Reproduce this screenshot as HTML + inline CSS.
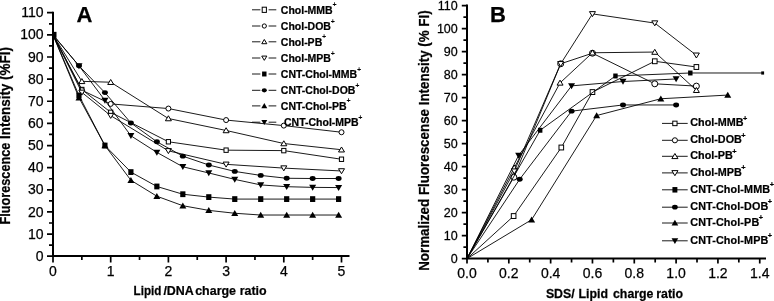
<!DOCTYPE html>
<html><head><meta charset="utf-8"><style>
html,body{margin:0;padding:0;background:#fff;}
body{width:774px;height:301px;position:relative;overflow:hidden;}
svg text{font-family:"Liberation Sans", sans-serif;fill:#000;stroke:#000;stroke-width:0.25px;}
svg{will-change:transform;}
</style></head><body>
<svg width="774" height="301" viewBox="0 0 774 301" style="position:absolute;left:0;top:0"><path d="M53.00,34.85 L81.85,89.52 L110.70,112.32 L168.40,141.76 L226.10,150.17 L283.80,150.62 L341.50,159.25" fill="none" stroke="#000" stroke-width="0.9"/><rect x="79.75" y="87.32" width="4.20" height="4.40" fill="#fff" stroke="#000" stroke-width="1.0"/><rect x="108.60" y="110.12" width="4.20" height="4.40" fill="#fff" stroke="#000" stroke-width="1.0"/><rect x="166.30" y="139.56" width="4.20" height="4.40" fill="#fff" stroke="#000" stroke-width="1.0"/><rect x="224.00" y="147.97" width="4.20" height="4.40" fill="#fff" stroke="#000" stroke-width="1.0"/><rect x="281.70" y="148.42" width="4.20" height="4.40" fill="#fff" stroke="#000" stroke-width="1.0"/><rect x="339.40" y="157.05" width="4.20" height="4.40" fill="#fff" stroke="#000" stroke-width="1.0"/><path d="M53.00,34.85 L81.85,90.19 L110.70,103.91 L168.40,108.56 L226.10,120.07 L283.80,125.60 L341.50,132.24" fill="none" stroke="#000" stroke-width="0.9"/><circle cx="81.85" cy="90.19" r="2.50" fill="#fff" stroke="#000" stroke-width="1.0"/><circle cx="110.70" cy="103.91" r="2.50" fill="#fff" stroke="#000" stroke-width="1.0"/><circle cx="168.40" cy="108.56" r="2.50" fill="#fff" stroke="#000" stroke-width="1.0"/><circle cx="226.10" cy="120.07" r="2.50" fill="#fff" stroke="#000" stroke-width="1.0"/><circle cx="283.80" cy="125.60" r="2.50" fill="#fff" stroke="#000" stroke-width="1.0"/><circle cx="341.50" cy="132.24" r="2.50" fill="#fff" stroke="#000" stroke-width="1.0"/><path d="M53.00,34.85 L81.85,81.33 L110.70,82.22 L168.40,118.52 L226.10,130.47 L283.80,143.53 L341.50,149.73" fill="none" stroke="#000" stroke-width="0.9"/><path d="M81.85,78.58 L84.85,83.58 L78.85,83.58Z" fill="#fff" stroke="#000" stroke-width="1.0"/><path d="M110.70,79.47 L113.70,84.47 L107.70,84.47Z" fill="#fff" stroke="#000" stroke-width="1.0"/><path d="M168.40,115.77 L171.40,120.77 L165.40,120.77Z" fill="#fff" stroke="#000" stroke-width="1.0"/><path d="M226.10,127.72 L229.10,132.72 L223.10,132.72Z" fill="#fff" stroke="#000" stroke-width="1.0"/><path d="M283.80,140.78 L286.80,145.78 L280.80,145.78Z" fill="#fff" stroke="#000" stroke-width="1.0"/><path d="M341.50,146.98 L344.50,151.98 L338.50,151.98Z" fill="#fff" stroke="#000" stroke-width="1.0"/><path d="M53.00,34.85 L81.85,92.40 L110.70,115.64 L168.40,150.84 L226.10,164.34 L283.80,168.10 L341.50,170.98" fill="none" stroke="#000" stroke-width="0.9"/><path d="M81.85,95.15 L84.85,90.15 L78.85,90.15Z" fill="#fff" stroke="#000" stroke-width="1.0"/><path d="M110.70,118.39 L113.70,113.39 L107.70,113.39Z" fill="#fff" stroke="#000" stroke-width="1.0"/><path d="M168.40,153.59 L171.40,148.59 L165.40,148.59Z" fill="#fff" stroke="#000" stroke-width="1.0"/><path d="M226.10,167.09 L229.10,162.09 L223.10,162.09Z" fill="#fff" stroke="#000" stroke-width="1.0"/><path d="M283.80,170.85 L286.80,165.85 L280.80,165.85Z" fill="#fff" stroke="#000" stroke-width="1.0"/><path d="M341.50,173.73 L344.50,168.73 L338.50,168.73Z" fill="#fff" stroke="#000" stroke-width="1.0"/><path d="M53.00,34.85 L78.97,95.50 L104.93,145.53 L130.90,172.09 L156.86,186.47 L182.83,194.22 L208.79,197.10 L234.75,199.09 L260.72,199.09 L286.69,199.09 L312.65,199.09 L338.62,199.09" fill="none" stroke="#000" stroke-width="0.9"/><rect x="76.37" y="92.60" width="5.20" height="5.80" fill="#000"/><rect x="102.33" y="142.62" width="5.20" height="5.80" fill="#000"/><rect x="128.30" y="169.19" width="5.20" height="5.80" fill="#000"/><rect x="154.26" y="183.57" width="5.20" height="5.80" fill="#000"/><rect x="180.23" y="191.32" width="5.20" height="5.80" fill="#000"/><rect x="206.19" y="194.20" width="5.20" height="5.80" fill="#000"/><rect x="232.16" y="196.19" width="5.20" height="5.80" fill="#000"/><rect x="258.12" y="196.19" width="5.20" height="5.80" fill="#000"/><rect x="284.08" y="196.19" width="5.20" height="5.80" fill="#000"/><rect x="310.05" y="196.19" width="5.20" height="5.80" fill="#000"/><rect x="336.01" y="196.19" width="5.20" height="5.80" fill="#000"/><path d="M53.00,34.85 L78.97,65.84 L104.93,92.62 L130.90,122.95 L156.86,141.76 L182.83,156.15 L208.79,165.00 L234.75,171.42 L260.72,175.41 L286.69,178.28 L312.65,178.51 L338.62,178.51" fill="none" stroke="#000" stroke-width="0.9"/><ellipse cx="78.97" cy="65.84" rx="3.00" ry="2.45" fill="#000"/><ellipse cx="104.93" cy="92.62" rx="3.00" ry="2.45" fill="#000"/><ellipse cx="130.90" cy="122.95" rx="3.00" ry="2.45" fill="#000"/><ellipse cx="156.86" cy="141.76" rx="3.00" ry="2.45" fill="#000"/><ellipse cx="182.83" cy="156.15" rx="3.00" ry="2.45" fill="#000"/><ellipse cx="208.79" cy="165.00" rx="3.00" ry="2.45" fill="#000"/><ellipse cx="234.75" cy="171.42" rx="3.00" ry="2.45" fill="#000"/><ellipse cx="260.72" cy="175.41" rx="3.00" ry="2.45" fill="#000"/><ellipse cx="286.69" cy="178.28" rx="3.00" ry="2.45" fill="#000"/><ellipse cx="312.65" cy="178.51" rx="3.00" ry="2.45" fill="#000"/><ellipse cx="338.62" cy="178.51" rx="3.00" ry="2.45" fill="#000"/><path d="M53.00,34.85 L78.97,97.71 L104.93,145.53 L130.90,180.28 L156.86,196.21 L182.83,205.73 L208.79,210.38 L234.75,213.26 L260.72,215.03 L286.69,215.03 L312.65,215.03 L338.62,215.03" fill="none" stroke="#000" stroke-width="0.9"/><path d="M78.97,94.41 L82.47,100.41 L75.47,100.41Z" fill="#000"/><path d="M104.93,142.22 L108.43,148.22 L101.43,148.22Z" fill="#000"/><path d="M130.90,176.98 L134.40,182.98 L127.40,182.98Z" fill="#000"/><path d="M156.86,192.91 L160.36,198.91 L153.36,198.91Z" fill="#000"/><path d="M182.83,202.43 L186.33,208.43 L179.33,208.43Z" fill="#000"/><path d="M208.79,207.08 L212.29,213.08 L205.29,213.08Z" fill="#000"/><path d="M234.75,209.96 L238.25,215.96 L231.25,215.96Z" fill="#000"/><path d="M260.72,211.73 L264.22,217.73 L257.22,217.73Z" fill="#000"/><path d="M286.69,211.73 L290.19,217.73 L283.19,217.73Z" fill="#000"/><path d="M312.65,211.73 L316.15,217.73 L309.15,217.73Z" fill="#000"/><path d="M338.62,211.73 L342.12,217.73 L335.12,217.73Z" fill="#000"/><path d="M53.00,34.85 L78.97,65.84 L104.93,100.37 L130.90,135.79 L156.86,152.39 L182.83,166.77 L208.79,172.97 L234.75,179.39 L260.72,184.93 L286.69,186.70 L312.65,187.36 L338.62,187.58" fill="none" stroke="#000" stroke-width="0.9"/><path d="M78.97,69.14 L82.47,63.14 L75.47,63.14Z" fill="#000"/><path d="M104.93,103.67 L108.43,97.67 L101.43,97.67Z" fill="#000"/><path d="M130.90,139.09 L134.40,133.09 L127.40,133.09Z" fill="#000"/><path d="M156.86,155.69 L160.36,149.69 L153.36,149.69Z" fill="#000"/><path d="M182.83,170.07 L186.33,164.07 L179.33,164.07Z" fill="#000"/><path d="M208.79,176.27 L212.29,170.27 L205.29,170.27Z" fill="#000"/><path d="M234.75,182.69 L238.25,176.69 L231.25,176.69Z" fill="#000"/><path d="M260.72,188.23 L264.22,182.23 L257.22,182.23Z" fill="#000"/><path d="M286.69,190.00 L290.19,184.00 L283.19,184.00Z" fill="#000"/><path d="M312.65,190.66 L316.15,184.66 L309.15,184.66Z" fill="#000"/><path d="M338.62,190.88 L342.12,184.88 L335.12,184.88Z" fill="#000"/><path d="M467.00,258.60 L513.63,216.05 L561.30,147.51 L592.46,92.08 L654.77,61.26 L696.38,67.01" fill="none" stroke="#000" stroke-width="0.9"/><rect x="511.32" y="213.63" width="4.62" height="4.84" fill="#fff" stroke="#000" stroke-width="1.0"/><rect x="558.99" y="145.09" width="4.62" height="4.84" fill="#fff" stroke="#000" stroke-width="1.0"/><rect x="590.15" y="89.66" width="4.62" height="4.84" fill="#fff" stroke="#000" stroke-width="1.0"/><rect x="652.46" y="58.84" width="4.62" height="4.84" fill="#fff" stroke="#000" stroke-width="1.0"/><rect x="694.07" y="64.59" width="4.62" height="4.84" fill="#fff" stroke="#000" stroke-width="1.0"/><path d="M467.00,258.60 L513.84,177.18 L560.68,63.79 L592.46,53.21 L654.77,83.80 L696.38,86.10" fill="none" stroke="#000" stroke-width="0.9"/><circle cx="513.84" cy="177.18" r="3.00" fill="#fff" stroke="#000" stroke-width="1.0"/><circle cx="560.68" cy="63.79" r="3.00" fill="#fff" stroke="#000" stroke-width="1.0"/><circle cx="592.46" cy="53.21" r="3.00" fill="#fff" stroke="#000" stroke-width="1.0"/><circle cx="654.77" cy="83.80" r="3.00" fill="#fff" stroke="#000" stroke-width="1.0"/><circle cx="696.38" cy="86.10" r="3.00" fill="#fff" stroke="#000" stroke-width="1.0"/><path d="M467.00,258.60 L514.26,167.75 L560.05,82.88 L592.46,52.75 L654.77,52.06 L696.38,90.24" fill="none" stroke="#000" stroke-width="0.9"/><path d="M514.26,165.00 L517.26,170.00 L511.26,170.00Z" fill="#fff" stroke="#000" stroke-width="1.0"/><path d="M560.05,80.13 L563.05,85.13 L557.05,85.13Z" fill="#fff" stroke="#000" stroke-width="1.0"/><path d="M592.46,50.00 L595.46,55.00 L589.46,55.00Z" fill="#fff" stroke="#000" stroke-width="1.0"/><path d="M654.77,49.31 L657.77,54.31 L651.77,54.31Z" fill="#fff" stroke="#000" stroke-width="1.0"/><path d="M696.38,87.49 L699.38,92.49 L693.38,92.49Z" fill="#fff" stroke="#000" stroke-width="1.0"/><path d="M467.00,258.60 L514.26,171.20 L560.68,63.79 L592.46,13.88 L654.77,23.08 L696.38,55.28" fill="none" stroke="#000" stroke-width="0.9"/><path d="M514.26,173.95 L517.26,168.95 L511.26,168.95Z" fill="#fff" stroke="#000" stroke-width="1.0"/><path d="M560.68,66.54 L563.68,61.54 L557.68,61.54Z" fill="#fff" stroke="#000" stroke-width="1.0"/><path d="M592.46,16.63 L595.46,11.63 L589.46,11.63Z" fill="#fff" stroke="#000" stroke-width="1.0"/><path d="M654.77,25.83 L657.77,20.83 L651.77,20.83Z" fill="#fff" stroke="#000" stroke-width="1.0"/><path d="M696.38,58.03 L699.38,53.03 L693.38,53.03Z" fill="#fff" stroke="#000" stroke-width="1.0"/><path d="M467.00,258.60 L540.18,130.26 L615.46,75.98 L690.32,72.99 L762.67,72.99" fill="none" stroke="#000" stroke-width="0.9"/><rect x="537.97" y="127.80" width="4.42" height="4.93" fill="#000"/><rect x="613.25" y="73.52" width="4.42" height="4.93" fill="#000"/><rect x="688.11" y="70.53" width="4.42" height="4.93" fill="#000"/><rect x="761.24" y="71.40" width="2.86" height="3.19" fill="#000"/><path d="M467.00,258.60 L519.69,179.25 L571.55,111.17 L622.99,104.96 L676.10,104.96" fill="none" stroke="#000" stroke-width="0.9"/><ellipse cx="519.69" cy="179.25" rx="3.00" ry="2.45" fill="#000"/><ellipse cx="571.55" cy="111.17" rx="3.00" ry="2.45" fill="#000"/><ellipse cx="622.99" cy="104.96" rx="3.00" ry="2.45" fill="#000"/><ellipse cx="676.10" cy="104.96" rx="3.00" ry="2.45" fill="#000"/><path d="M467.00,258.60 L531.61,219.73 L596.64,115.54 L660.84,98.75 L727.75,95.07" fill="none" stroke="#000" stroke-width="0.9"/><path d="M531.61,216.43 L535.11,222.43 L528.11,222.43Z" fill="#000"/><path d="M596.64,112.24 L600.14,118.24 L593.14,118.24Z" fill="#000"/><path d="M660.84,95.45 L664.34,101.45 L657.34,101.45Z" fill="#000"/><path d="M727.75,91.77 L731.25,97.77 L724.25,97.77Z" fill="#000"/><path d="M467.00,258.60 L518.65,155.33 L571.55,85.87 L622.99,81.50 L676.10,78.97" fill="none" stroke="#000" stroke-width="0.9"/><path d="M518.65,158.63 L522.15,152.63 L515.15,152.63Z" fill="#000"/><path d="M571.55,89.17 L575.05,83.17 L568.05,83.17Z" fill="#000"/><path d="M622.99,84.80 L626.49,78.80 L619.49,78.80Z" fill="#000"/><path d="M676.10,82.27 L679.60,76.27 L672.60,76.27Z" fill="#000"/><rect x="52.00" y="31.85" width="4.5" height="6" fill="#000"/><path d="M53.0,12.72 L53.0,256 L348.5,256" fill="none" stroke="#000" stroke-width="2" stroke-linecap="square"/><path d="M47.00,256.20 H53.0 M49.00,245.13 H53.0 M47.00,234.06 H53.0 M49.00,223.00 H53.0 M47.00,211.93 H53.0 M49.00,200.86 H53.0 M47.00,189.79 H53.0 M49.00,178.73 H53.0 M47.00,167.66 H53.0 M49.00,156.59 H53.0 M47.00,145.53 H53.0 M49.00,134.46 H53.0 M47.00,123.39 H53.0 M49.00,112.32 H53.0 M47.00,101.25 H53.0 M49.00,90.19 H53.0 M47.00,79.12 H53.0 M49.00,68.05 H53.0 M47.00,56.99 H53.0 M49.00,45.92 H53.0 M47.00,34.85 H53.0 M49.00,23.78 H53.0 M47.00,12.72 H53.0 M53.00,256 V262.50 M81.85,256 V260.00 M110.70,256 V262.50 M139.55,256 V260.00 M168.40,256 V262.50 M197.25,256 V260.00 M226.10,256 V262.50 M254.95,256 V260.00 M283.80,256 V262.50 M312.65,256 V260.00 M341.50,256 V262.50" stroke="#000" stroke-width="1.7" fill="none"/><path d="M467.0,5.60 L467.0,258.6 L765,258.6" fill="none" stroke="#000" stroke-width="2" stroke-linecap="square"/><path d="M461.80,258.60 H467.0 M463.40,247.10 H467.0 M461.80,235.60 H467.0 M463.40,224.10 H467.0 M461.80,212.60 H467.0 M463.40,201.10 H467.0 M461.80,189.60 H467.0 M463.40,178.10 H467.0 M461.80,166.60 H467.0 M463.40,155.10 H467.0 M461.80,143.60 H467.0 M463.40,132.10 H467.0 M461.80,120.60 H467.0 M463.40,109.10 H467.0 M461.80,97.60 H467.0 M463.40,86.10 H467.0 M461.80,74.60 H467.0 M463.40,63.10 H467.0 M461.80,51.60 H467.0 M463.40,40.10 H467.0 M461.80,28.60 H467.0 M463.40,17.10 H467.0 M461.80,5.60 H467.0 M467.00,258.6 V263.60 M487.91,258.6 V262.60 M508.82,258.6 V263.60 M529.73,258.6 V262.60 M550.64,258.6 V263.60 M571.55,258.6 V262.60 M592.46,258.6 V263.60 M613.37,258.6 V262.60 M634.28,258.6 V263.60 M655.19,258.6 V262.60 M676.10,258.6 V263.60 M697.01,258.6 V262.60 M717.92,258.6 V263.60 M738.83,258.6 V262.60 M759.74,258.6 V263.60" stroke="#000" stroke-width="1.7" fill="none"/><text x="43.5" y="260.80" text-anchor="end" font-size="14" transform="" >0</text><text x="43.5" y="238.66" text-anchor="end" font-size="14" transform="" >10</text><text x="43.5" y="216.53" text-anchor="end" font-size="14" transform="" >20</text><text x="43.5" y="194.39" text-anchor="end" font-size="14" transform="" >30</text><text x="43.5" y="172.26" text-anchor="end" font-size="14" transform="" >40</text><text x="43.5" y="150.12" text-anchor="end" font-size="14" transform="" >50</text><text x="43.5" y="127.99" text-anchor="end" font-size="14" transform="" >60</text><text x="43.5" y="105.85" text-anchor="end" font-size="14" transform="" >70</text><text x="43.5" y="83.72" text-anchor="end" font-size="14" transform="" >80</text><text x="43.5" y="61.59" text-anchor="end" font-size="14" transform="" >90</text><text x="43.5" y="39.45" text-anchor="end" font-size="14" transform="" >100</text><text x="43.5" y="17.32" text-anchor="end" font-size="14" transform="" >110</text><text x="53.00" y="276" text-anchor="middle" font-size="14">0</text><text x="110.70" y="276" text-anchor="middle" font-size="14">1</text><text x="168.40" y="276" text-anchor="middle" font-size="14">2</text><text x="226.10" y="276" text-anchor="middle" font-size="14">3</text><text x="283.80" y="276" text-anchor="middle" font-size="14">4</text><text x="341.50" y="276" text-anchor="middle" font-size="14">5</text><g transform="translate(457.8,262.80) scale(0.95,1)"><text x="0" y="0" text-anchor="end" font-size="13.2">0</text></g><g transform="translate(457.8,239.80) scale(0.95,1)"><text x="0" y="0" text-anchor="end" font-size="13.2">10</text></g><g transform="translate(457.8,216.80) scale(0.95,1)"><text x="0" y="0" text-anchor="end" font-size="13.2">20</text></g><g transform="translate(457.8,193.80) scale(0.95,1)"><text x="0" y="0" text-anchor="end" font-size="13.2">30</text></g><g transform="translate(457.8,170.80) scale(0.95,1)"><text x="0" y="0" text-anchor="end" font-size="13.2">40</text></g><g transform="translate(457.8,147.80) scale(0.95,1)"><text x="0" y="0" text-anchor="end" font-size="13.2">50</text></g><g transform="translate(457.8,124.80) scale(0.95,1)"><text x="0" y="0" text-anchor="end" font-size="13.2">60</text></g><g transform="translate(457.8,101.80) scale(0.95,1)"><text x="0" y="0" text-anchor="end" font-size="13.2">70</text></g><g transform="translate(457.8,78.80) scale(0.95,1)"><text x="0" y="0" text-anchor="end" font-size="13.2">80</text></g><g transform="translate(457.8,55.80) scale(0.95,1)"><text x="0" y="0" text-anchor="end" font-size="13.2">90</text></g><g transform="translate(457.8,32.80) scale(0.95,1)"><text x="0" y="0" text-anchor="end" font-size="13.2">100</text></g><g transform="translate(457.8,9.80) scale(0.95,1)"><text x="0" y="0" text-anchor="end" font-size="13.2">110</text></g><text x="467.00" y="278" text-anchor="middle" font-size="14">0.0</text><text x="508.82" y="278" text-anchor="middle" font-size="14">0.2</text><text x="550.64" y="278" text-anchor="middle" font-size="14">0.4</text><text x="592.46" y="278" text-anchor="middle" font-size="14">0.6</text><text x="634.28" y="278" text-anchor="middle" font-size="14">0.8</text><text x="676.10" y="278" text-anchor="middle" font-size="14">1.0</text><text x="717.92" y="278" text-anchor="middle" font-size="14">1.2</text><text x="759.74" y="278" text-anchor="middle" font-size="14">1.4</text><text x="76.5" y="22" font-size="22" font-weight="bold">A</text><text x="490" y="22" font-size="22" font-weight="bold">B</text><g transform="translate(133.60,295.0) scale(0.87,1)"><text x="0" y="0" font-size="13.4" font-weight="bold" stroke="#000" stroke-width="0.2">Lipid</text></g><g transform="translate(163.40,295.0) scale(0.93,1)"><text x="0" y="0" font-size="13.4" font-weight="bold" stroke="#000" stroke-width="0.2">/DNA</text></g><g transform="translate(195.20,295.0) scale(0.93,1)"><text x="0" y="0" font-size="13.4" font-weight="bold" stroke="#000" stroke-width="0.2">charge</text></g><g transform="translate(239.70,295.0) scale(0.93,1)"><text x="0" y="0" font-size="13.4" font-weight="bold" stroke="#000" stroke-width="0.2">ratio</text></g><g transform="translate(545.90,298) scale(0.95,1)"><text x="0" y="0" font-size="13.0" font-weight="bold" stroke="#000" stroke-width="0.2">SDS/</text></g><g transform="translate(578.50,298) scale(0.95,1)"><text x="0" y="0" font-size="13.0" font-weight="bold" stroke="#000" stroke-width="0.2">Lipid</text></g><g transform="translate(613.00,298) scale(0.95,1)"><text x="0" y="0" font-size="13.0" font-weight="bold" stroke="#000" stroke-width="0.2">charge</text></g><g transform="translate(656.30,298) scale(0.95,1)"><text x="0" y="0" font-size="13.0" font-weight="bold" stroke="#000" stroke-width="0.2">ratio</text></g><text transform="translate(10.2,224.5) rotate(-90) scale(0.92,1)" x="0" y="0" font-size="13.8" font-weight="bold" stroke="#000" stroke-width="0.2">Fluorescence</text><text transform="translate(10.2,138.9) rotate(-90) scale(0.975,1)" x="0" y="0" font-size="13.8" font-weight="bold" stroke="#000" stroke-width="0.2">Intensity (%FI)</text><text transform="translate(428.5,270.8) rotate(-90) scale(0.955,1)" x="0" y="0" font-size="14" font-weight="bold" stroke="#000" stroke-width="0.2">Normalized Fluorescense Intensity (% FI)</text><path d="M252,9.80 H260.4 M268.6,9.80 H276.3" stroke="#000" stroke-width="0.9"/><rect x="262.20" y="7.20" width="4.2" height="5.2" fill="#fff" stroke="#000" stroke-width="1"/><g transform="translate(280.8,13.80) scale(0.955,1)"><text x="0" y="0" font-size="11" font-weight="bold" stroke="#000" stroke-width="0.25">Chol-MMB<tspan dx="-0.3" dy="-6.5" font-size="7.5" stroke-width="0">+</tspan></text></g><path d="M252,26.00 H260.4 M268.6,26.00 H276.3" stroke="#000" stroke-width="0.9"/><circle cx="264.30" cy="26.00" r="2.12" fill="#fff" stroke="#000" stroke-width="1.0"/><g transform="translate(280.8,30.00) scale(0.955,1)"><text x="0" y="0" font-size="11" font-weight="bold" stroke="#000" stroke-width="0.25">Chol-DOB<tspan dx="-0.3" dy="-6.5" font-size="7.5" stroke-width="0">+</tspan></text></g><path d="M252,41.80 H260.4 M268.6,41.80 H276.3" stroke="#000" stroke-width="0.9"/><path d="M264.30,39.46 L266.85,43.71 L261.75,43.71Z" fill="#fff" stroke="#000" stroke-width="1.0"/><g transform="translate(280.8,45.80) scale(0.955,1)"><text x="0" y="0" font-size="11" font-weight="bold" stroke="#000" stroke-width="0.25">Chol-PB<tspan dx="-0.3" dy="-6.5" font-size="7.5" stroke-width="0">+</tspan></text></g><path d="M252,58.00 H260.4 M268.6,58.00 H276.3" stroke="#000" stroke-width="0.9"/><path d="M264.30,60.34 L266.85,56.09 L261.75,56.09Z" fill="#fff" stroke="#000" stroke-width="1.0"/><g transform="translate(280.8,62.00) scale(0.955,1)"><text x="0" y="0" font-size="11" font-weight="bold" stroke="#000" stroke-width="0.25">Chol-MPB<tspan dx="-0.3" dy="-6.5" font-size="7.5" stroke-width="0">+</tspan></text></g><path d="M252,74.00 H260.4 M268.6,74.00 H276.3" stroke="#000" stroke-width="0.9"/><rect x="262.09" y="71.53" width="4.42" height="4.93" fill="#000"/><g transform="translate(280.8,78.00) scale(0.955,1)"><text x="0" y="0" font-size="11" font-weight="bold" stroke="#000" stroke-width="0.25">CNT-Chol-MMB<tspan dx="-0.3" dy="-6.5" font-size="7.5" stroke-width="0">+</tspan></text></g><path d="M252,90.30 H260.4 M268.6,90.30 H276.3" stroke="#000" stroke-width="0.9"/><ellipse cx="264.30" cy="90.30" rx="2.55" ry="2.08" fill="#000"/><g transform="translate(280.8,94.30) scale(0.955,1)"><text x="0" y="0" font-size="11" font-weight="bold" stroke="#000" stroke-width="0.25">CNT-Chol-DOB<tspan dx="-0.3" dy="-6.5" font-size="7.5" stroke-width="0">+</tspan></text></g><path d="M252,105.90 H260.4 M268.6,105.90 H276.3" stroke="#000" stroke-width="0.9"/><path d="M264.30,103.09 L267.28,108.20 L261.32,108.20Z" fill="#000"/><g transform="translate(280.8,109.90) scale(0.955,1)"><text x="0" y="0" font-size="11" font-weight="bold" stroke="#000" stroke-width="0.25">CNT-Chol-PB<tspan dx="-0.3" dy="-6.5" font-size="7.5" stroke-width="0">+</tspan></text></g><path d="M252,122.20 H260.4 M268.6,122.20 H276.3" stroke="#000" stroke-width="0.9"/><path d="M264.30,125.01 L267.28,119.91 L261.32,119.91Z" fill="#000"/><g transform="translate(284,126.20) scale(0.955,1)"><text x="0" y="0" font-size="11" font-weight="bold" stroke="#000" stroke-width="0.25">CNT-Chol-MPB<tspan dx="-0.3" dy="-6.5" font-size="7.5" stroke-width="0">+</tspan></text></g><path d="M662,123.40 H687.7" stroke="#000" stroke-width="0.9"/><rect x="672.76" y="121.16" width="4.28" height="4.49" fill="#fff" stroke="#000" stroke-width="1.0"/><g transform="translate(690.3,126.40) scale(0.915,1)"><text x="0" y="0" font-size="11.8" font-weight="bold" stroke="#000" stroke-width="0.15" letter-spacing="0">Chol-MMB<tspan dx="-0.6" dy="-5.8" font-size="8">+</tspan></text></g><path d="M662,140.30 H687.7" stroke="#000" stroke-width="0.9"/><circle cx="674.90" cy="140.30" r="2.55" fill="#fff" stroke="#000" stroke-width="1.0"/><g transform="translate(690.3,143.30) scale(0.915,1)"><text x="0" y="0" font-size="11.8" font-weight="bold" stroke="#000" stroke-width="0.15" letter-spacing="0">Chol-DOB<tspan dx="-0.6" dy="-5.8" font-size="8">+</tspan></text></g><path d="M662,156.30 H687.7" stroke="#000" stroke-width="0.9"/><path d="M674.90,153.50 L677.96,158.59 L671.84,158.59Z" fill="#fff" stroke="#000" stroke-width="1.0"/><g transform="translate(690.3,159.30) scale(0.915,1)"><text x="0" y="0" font-size="11.8" font-weight="bold" stroke="#000" stroke-width="0.15" letter-spacing="0">Chol-PB<tspan dx="-0.6" dy="-5.8" font-size="8">+</tspan></text></g><path d="M662,172.90 H687.7" stroke="#000" stroke-width="0.9"/><path d="M674.90,175.71 L677.96,170.61 L671.84,170.61Z" fill="#fff" stroke="#000" stroke-width="1.0"/><g transform="translate(690.3,175.90) scale(0.915,1)"><text x="0" y="0" font-size="11.8" font-weight="bold" stroke="#000" stroke-width="0.15" letter-spacing="0">Chol-MPB<tspan dx="-0.6" dy="-5.8" font-size="8">+</tspan></text></g><path d="M662,189.80 H687.7" stroke="#000" stroke-width="0.9"/><rect x="672.43" y="187.05" width="4.94" height="5.51" fill="#000"/><g transform="translate(690.3,192.80) scale(0.915,1)"><text x="0" y="0" font-size="11.8" font-weight="bold" stroke="#000" stroke-width="0.15" letter-spacing="0.13">CNT-Chol-MMB<tspan dx="-0.6" dy="-5.8" font-size="8">+</tspan></text></g><path d="M662,207.20 H687.7" stroke="#000" stroke-width="0.9"/><ellipse cx="674.90" cy="207.20" rx="2.85" ry="2.33" fill="#000"/><g transform="translate(690.3,210.20) scale(0.915,1)"><text x="0" y="0" font-size="11.8" font-weight="bold" stroke="#000" stroke-width="0.15" letter-spacing="0.13">CNT-Chol-DOB<tspan dx="-0.6" dy="-5.8" font-size="8">+</tspan></text></g><path d="M662,223.00 H687.7" stroke="#000" stroke-width="0.9"/><path d="M674.90,219.87 L678.23,225.56 L671.57,225.56Z" fill="#000"/><g transform="translate(690.3,226.00) scale(0.915,1)"><text x="0" y="0" font-size="11.8" font-weight="bold" stroke="#000" stroke-width="0.15" letter-spacing="0.13">CNT-Chol-PB<tspan dx="-0.6" dy="-5.8" font-size="8">+</tspan></text></g><path d="M662,240.80 H687.7" stroke="#000" stroke-width="0.9"/><path d="M674.90,243.94 L678.23,238.24 L671.57,238.24Z" fill="#000"/><g transform="translate(690.3,243.80) scale(0.915,1)"><text x="0" y="0" font-size="11.8" font-weight="bold" stroke="#000" stroke-width="0.15" letter-spacing="0.13">CNT-Chol-MPB<tspan dx="-0.6" dy="-5.8" font-size="8">+</tspan></text></g></svg>
</body></html>
